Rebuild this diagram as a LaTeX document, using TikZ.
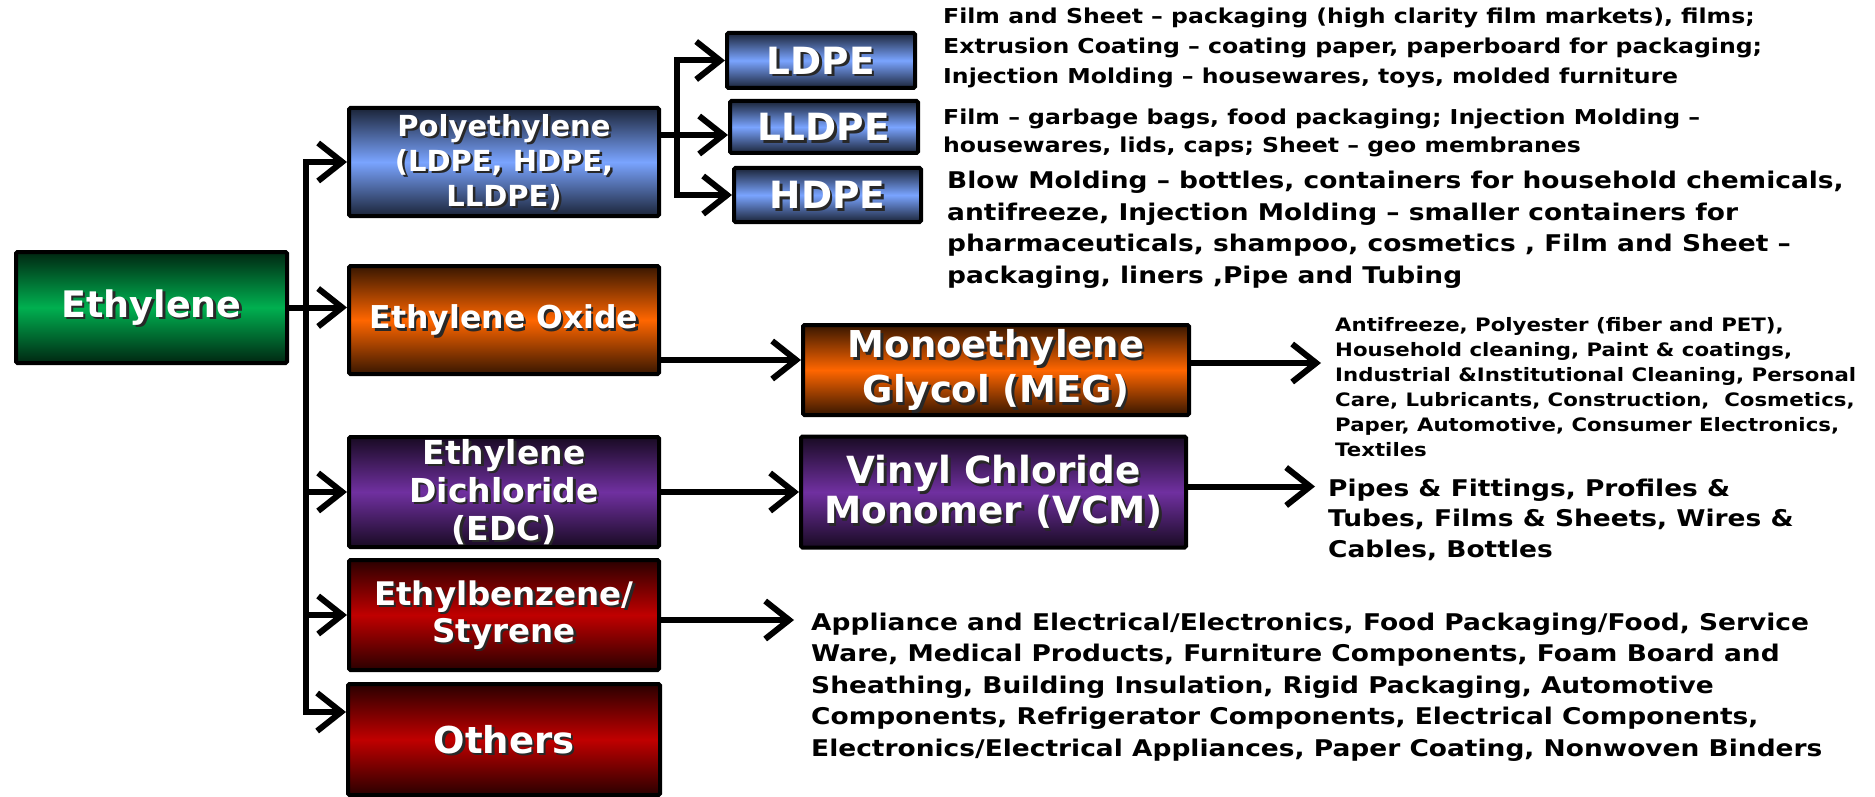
\documentclass[tikz,border=0pt]{standalone}
\usepackage{fontspec}
\setmainfont{DejaVu Sans}
\newfontfamily\appfont{DejaVu Sans}[FakeStretch=1.15]
\usetikzlibrary{arrows.meta,calc,positioning}
\definecolor{ethcolor}{RGB}{0,176,80}
\definecolor{pecolor}{RGB}{122,164,255}
\definecolor{eocolor}{RGB}{255,102,0}
\definecolor{edccolor}{RGB}{112,48,160}
\definecolor{stycolor}{RGB}{192,0,0}
\definecolor{shadowcolor}{RGB}{40,40,40}
\tikzset{
  prodbox/.style={draw=black,line width=4pt,rounded corners=1.5pt,
    top color=#1!22!black,bottom color=#1!22!black,middle color=#1,
    text=white,align=center,inner sep=2pt},
  % dark drop shadow behind the white label
  shadowed/.style={path picture={
    \node[text=shadowcolor,align=center,anchor=center]
      at ([shift={(2.5pt,-2.5pt)}]path picture bounding box.center) {#1};}},
  fs/.style 2 args={font=\bfseries\fontsize{#1}{#2}\selectfont},
  afs/.style 2 args={font=\appfont\bfseries\fontsize{#1}{#2}\selectfont},
  barb/.tip={Straight Barb[length=24pt,width=38pt]},
  flowline/.style={line width=6pt,line join=miter,-{barb}},
  apptext/.style={anchor=west,align=left,inner sep=0pt}
}

\begin{document}
\begin{tikzpicture}[x=1pt,y=-1pt]
  \useasboundingbox (0,0) rectangle (1875,797);

  % --- Feedstock and first products ---
  \node[prodbox=ethcolor,fs={36.5}{40},minimum width=271pt,minimum height=111pt,
    shadowed={Ethylene}] (E) at (151.5,307.5) {Ethylene};

  \node[prodbox=pecolor,fs={29}{35},minimum width=310pt,minimum height=108pt,
    shadowed={Polyethylene\\(LDPE, HDPE,\\LLDPE)}]
    (PE) at (504,162) {Polyethylene\\(LDPE, HDPE,\\LLDPE)};

  \node[prodbox=eocolor,fs={31.5}{35},minimum width=310pt,minimum height=108pt,
    shadowed={Ethylene Oxide},below=46pt of PE] (EO) {Ethylene Oxide};

  \node[prodbox=edccolor,fs={33}{38},minimum width=310pt,minimum height=110pt,
    shadowed={Ethylene\\Dichloride\\(EDC)},below=59pt of EO]
    (EDC) {Ethylene\\Dichloride\\(EDC)};

  \node[prodbox=stycolor,fs={32.5}{37},minimum width=310pt,minimum height=110pt,
    shadowed={Ethylbenzene/\\Styrene},below=9pt of EDC]
    (STY) {Ethylbenzene/\\Styrene};

  \node[prodbox=stycolor,fs={37}{40},minimum width=312pt,minimum height=111pt,
    shadowed={Others},below=10pt of STY] (OTH) {Others};

  % --- Polyethylene grades ---
  \node[prodbox=pecolor,fs={37.5}{40},minimum width=188pt,minimum height=55pt,
    shadowed={LDPE}] (LD) at (821,60.5) {LDPE};
  \node[prodbox=pecolor,fs={37.5}{40},minimum width=188pt,minimum height=52pt,
    shadowed={LLDPE}] (LLD) at (824,127) {LLDPE};
  \node[prodbox=pecolor,fs={37.5}{40},minimum width=187pt,minimum height=54pt,
    shadowed={HDPE}] (HD) at (827.5,195) {HDPE};

  % --- Derivatives ---
  \node[prodbox=eocolor,fs={37}{45},minimum width=386pt,minimum height=90pt,
    shadowed={Monoethylene\\Glycol (MEG)}]
    (MEG) at (996,370) {Monoethylene\\Glycol (MEG)};

  \node[prodbox=edccolor,fs={37.4}{40},minimum width=385pt,minimum height=111pt,
    shadowed={Vinyl Chloride\\Monomer (VCM)},right=138pt of EDC]
    (VCM) {Vinyl Chloride\\Monomer (VCM)};

  % --- End uses ---
  \node[apptext,afs={20.5}{30}] (tLD) at (943,48)
    {Film and Sheet – packaging (high clarity film markets), films;\\
     Extrusion Coating – coating paper, paperboard for packaging;\\
     Injection Molding – housewares, toys, molded furniture};

  \node[apptext,afs={20.5}{28}] (tLLD) at (943,133)
    {Film – garbage bags, food packaging; Injection Molding –\\
     housewares, lids, caps; Sheet – geo membranes};

  \node[apptext,afs={23}{31.5}] (tHD) at (947,229.5)
    {Blow Molding – bottles, containers for household chemicals,\\
     antifreeze, Injection Molding – smaller containers for\\
     pharmaceuticals, shampoo, cosmetics , Film and Sheet –\\
     packaging, liners ,Pipe and Tubing};

  \node[apptext,afs={18.5}{25}] (tMEG) at (1335,387)
    {Antifreeze, Polyester (fiber and PET),\\
     Household cleaning, Paint \& coatings,\\
     Industrial \&Institutional Cleaning, Personal\\
     Care, Lubricants, Construction,\ \ Cosmetics,\\
     Paper, Automotive, Consumer Electronics,\\
     Textiles};

  \node[apptext,afs={23}{30.5}] (tVCM) at (1328,519.5)
    {Pipes \& Fittings, Profiles \&\\
     Tubes, Films \& Sheets, Wires \&\\
     Cables, Bottles};

  \node[apptext,afs={23}{31.6}] (tSTY) at (811,687)
    {Appliance and Electrical/Electronics, Food Packaging/Food, Service\\
     Ware, Medical Products, Furniture Components, Foam Board and\\
     Sheathing, Building Insulation, Rigid Packaging, Automotive\\
     Components, Refrigerator Components, Electrical Components,\\
     Electronics/Electrical Appliances, Paper Coating, Nonwoven Binders};

  % --- Trunk from ethylene ---
  \coordinate (tr) at (306,0);
  \coordinate (oa) at ([yshift=-30pt]OTH.north west);

  \draw[flowline] (E.east) -- (E.east -| EO.west);
  \draw[flowline,{barb}-{barb}] (PE.west) -| (tr |- oa) -- (oa);
  \draw[flowline] (tr |- EDC.west) -- (EDC.west);
  \draw[flowline] (tr |- STY.west) -- (STY.west);

  % --- Polyethylene split ---
  \coordinate (pb) at ([yshift=27pt]PE.east);
  \coordinate (bx) at (677,0);
  \draw[flowline] (pb) -- (pb -| LLD.west);
  \draw[flowline,{barb}-{barb}] (LD.west) -| (bx |- HD.west) -- (HD.west);

  % --- Derivative links ---
  \coordinate (mo) at ([yshift=-40pt]EO.east);
  \draw[flowline] (mo) -- (mo -| MEG.west);
  \draw[flowline] (EDC.east) -- (VCM.west);

  \draw[flowline,shorten >=14pt] ([yshift=7pt]MEG.east) -- ([yshift=7pt]MEG.east -| tMEG.west);
  \draw[flowline,shorten >=13pt] ([yshift=5.5pt]VCM.east) -- ([yshift=5.5pt]VCM.east -| tVCM.west);
  \draw[flowline,shorten >=17pt] ([yshift=-5pt]STY.east) -- ([yshift=-5pt]STY.east -| tSTY.west);

\end{tikzpicture}
\end{document}
